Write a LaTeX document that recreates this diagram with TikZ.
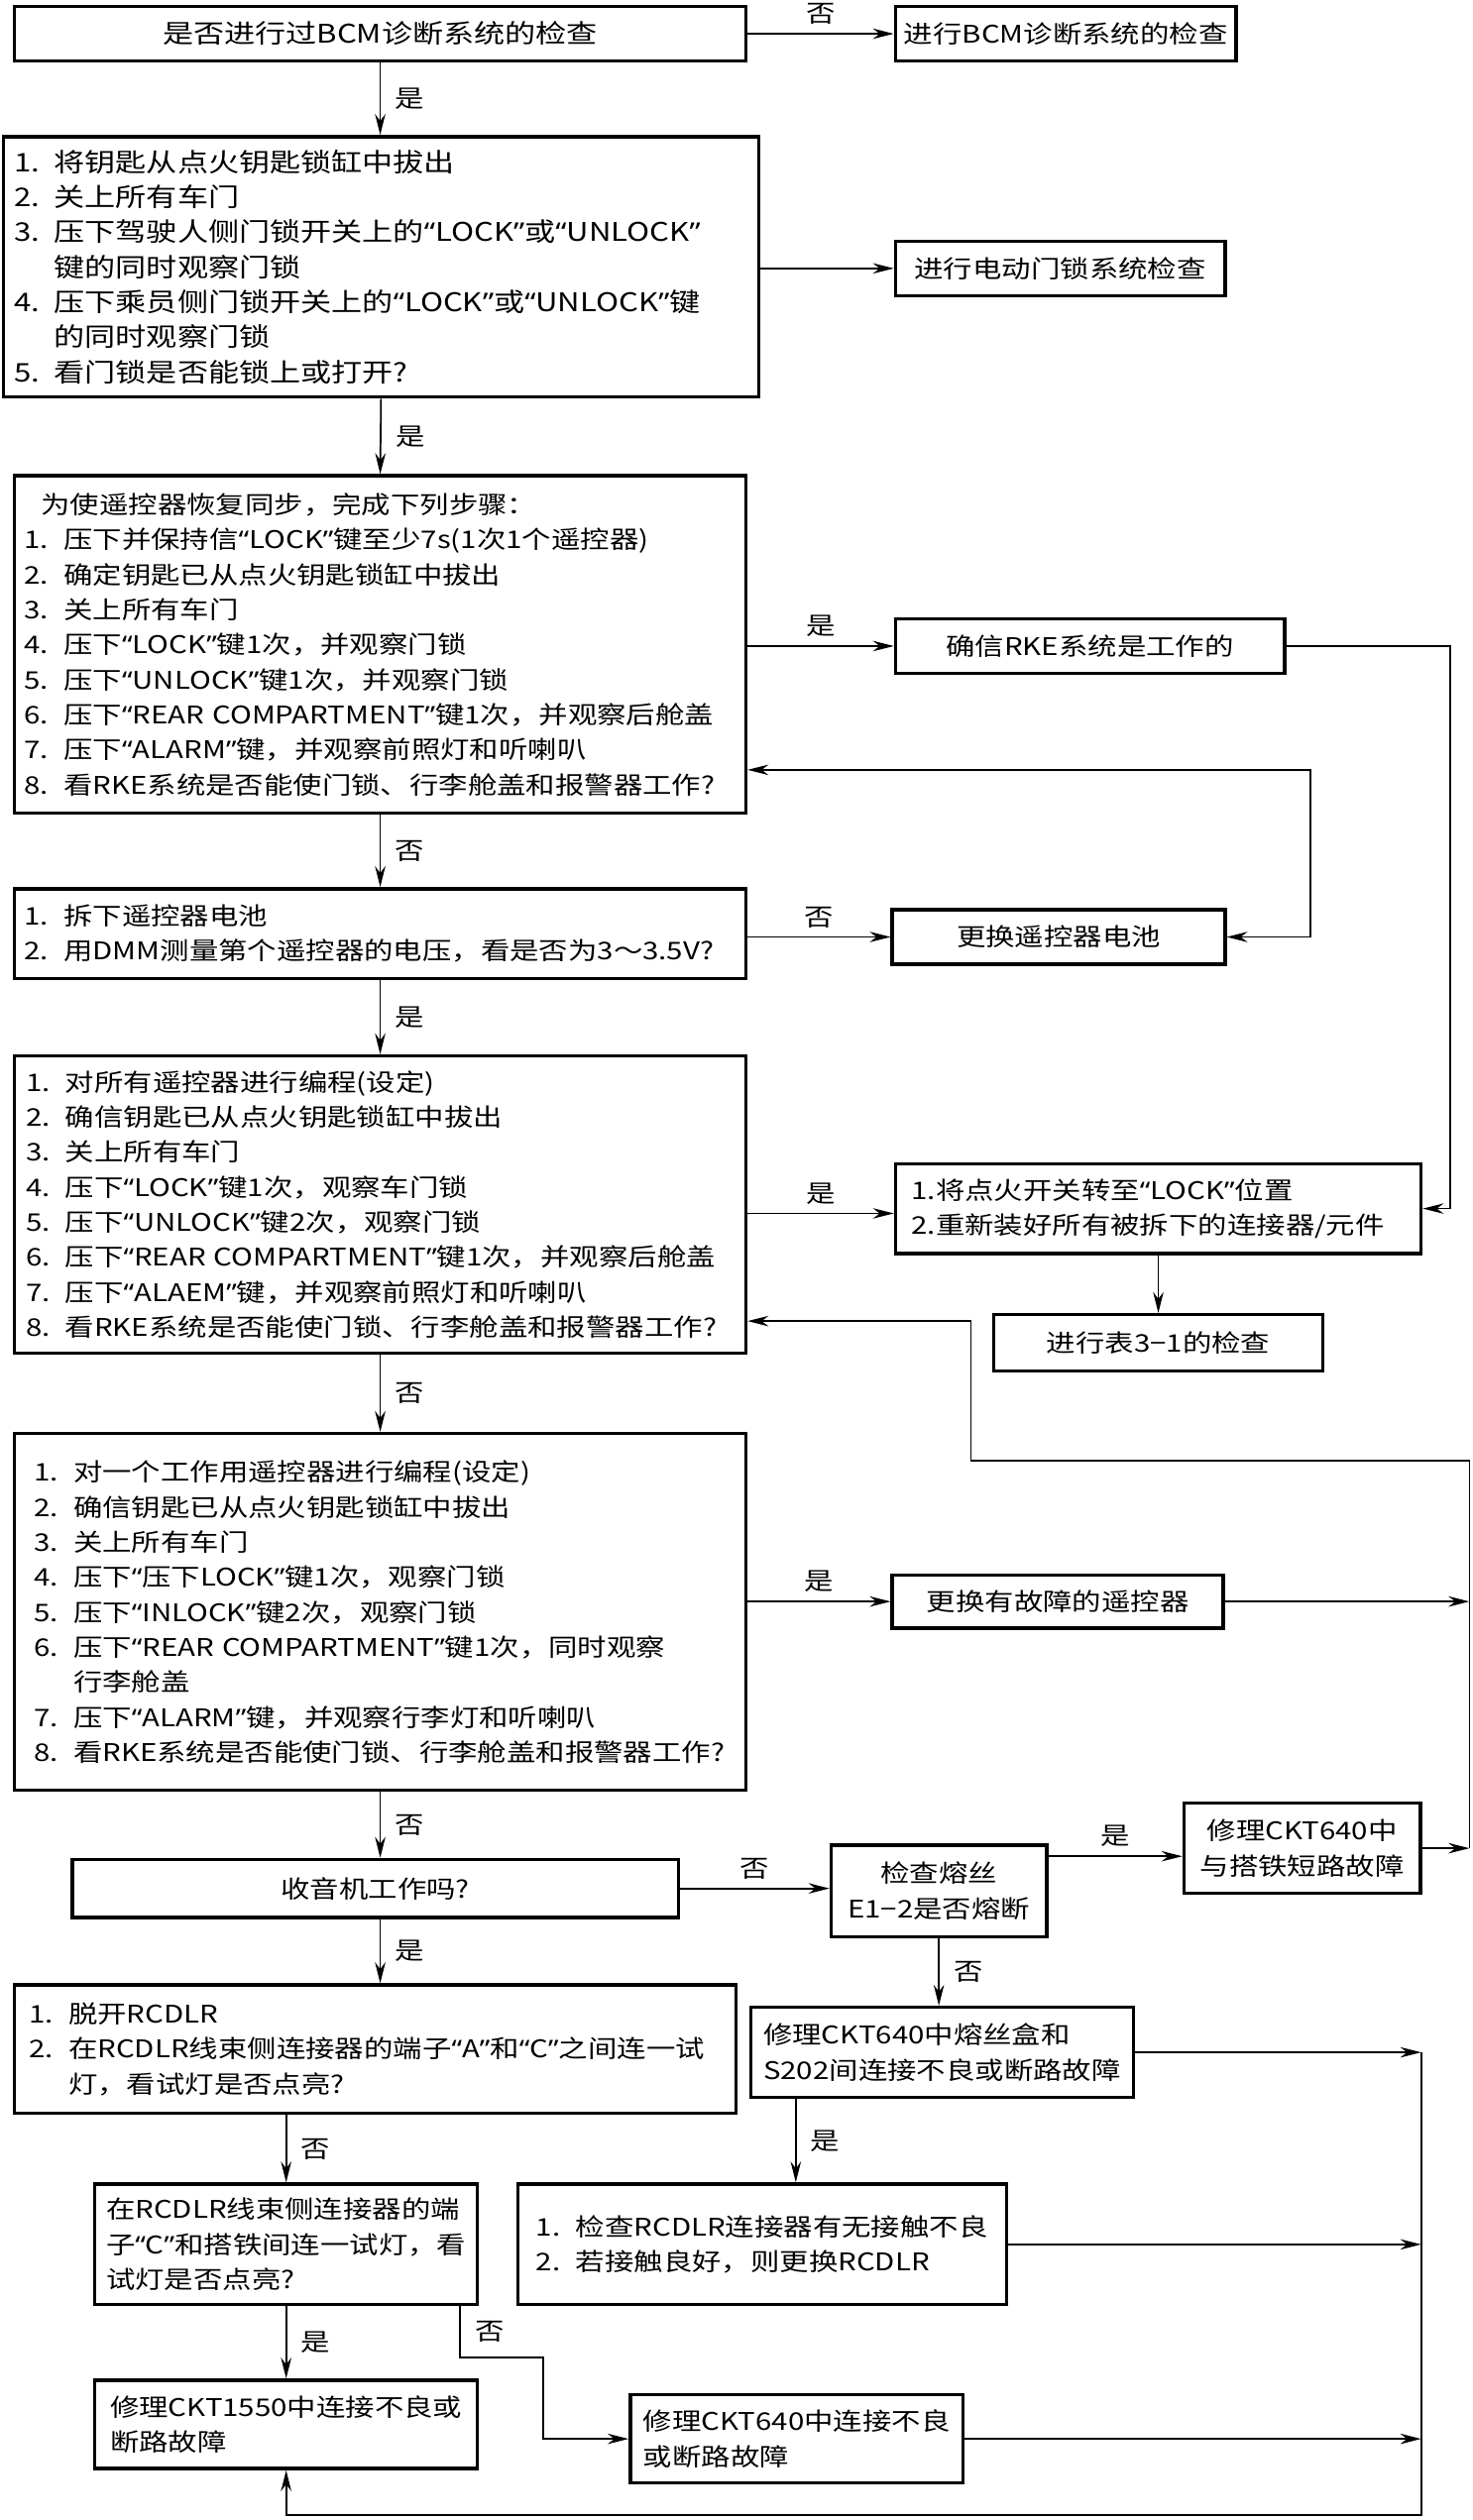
\documentclass[tikz,border=0pt]{standalone}
\usepackage{fontspec}
\setmainfont{Noto Sans CJK SC}[FakeStretch=1.2]
\newfontfamily\qtfont{Noto Sans}[FakeStretch=1.2]
\usetikzlibrary{arrows.meta}
\newcommand{\itm}[1]{\makebox[14pt][l]{#1}}
\newcommand{\ind}{\hspace*{14pt}}
\catcode`“=\active
\catcode`”=\active
\def“{{\qtfont\char"201C}}
\def”{{\qtfont\char"201D}}
\begin{document}
\begin{tikzpicture}[x=0.02cm, y=-0.02cm, font=\fontsize{8.6pt}{12.4pt}\selectfont,
    box/.style={draw, line width=1.2pt, inner sep=0pt},
    listbox/.style={box, align=left},
    arr/.style={line width=0.6pt, -{Stealth[length=2.6mm, width=1.3mm]}},
    dbl/.style={arr, {Stealth[length=2.6mm, width=1.3mm]}-{Stealth[length=2.6mm, width=1.3mm]}},
    albl/.style={inner sep=3pt, above},
    rlbl/.style={inner sep=3pt, right, xshift=2pt}]
    \useasboundingbox (0,0) rectangle (916,1568);
    \node[box, minimum width=9.10cm, minimum height=0.68cm, font=\fontsize{9.1pt}{12.4pt}\selectfont] (bcmq) at (236.5,21) {是否进行过BCM诊断系统的检查};
    \node[box, minimum width=4.24cm, minimum height=0.68cm] (bcmdo) at (663,21) {进行BCM诊断系统的检查};
    \node[listbox, inner xsep=0.14cm, text width=9.12cm, minimum height=3.24cm, font=\fontsize{9.1pt}{12.4pt}\selectfont] (lockq) at (237,166) {\itm{1.}将钥匙从点火钥匙锁缸中拔出\\ \itm{2.}关上所有车门\\ \itm{3.}压下驾驶人侧门锁开关上的“LOCK”或“UNLOCK”\\ \ind 键的同时观察门锁\\ \itm{4.}压下乘员侧门锁开关上的“LOCK”或“UNLOCK”键\\ \ind 的同时观察门锁\\ \itm{5.}看门锁是否能锁上或打开?};
    \node[box, minimum width=4.10cm, minimum height=0.68cm] (doorchk) at (659.5,167) {进行电动门锁系统检查};
    \node[listbox, inner xsep=0.12cm, text width=8.86cm, minimum height=4.20cm] (syncq) at (236.5,401) {\hspace*{6pt}为使遥控器恢复同步，完成下列步骤：\\ \itm{1.}压下并保持信“LOCK”键至少7s(1次1个遥控器)\\ \itm{2.}确定钥匙已从点火钥匙锁缸中拔出\\ \itm{3.}关上所有车门\\ \itm{4.}压下“LOCK”键1次，并观察门锁\\ \itm{5.}压下“UNLOCK”键1次，并观察门锁\\ \itm{6.}压下“REAR COMPARTMENT”键1次，并观察后舱盖\\ \itm{7.}压下“ALARM”键，并观察前照灯和听喇叭\\ \itm{8.}看RKE系统是否能使门锁、行李舱盖和报警器工作?};
    \node[box, minimum width=4.84cm, minimum height=0.68cm] (rkeok) at (678,402) {确信RKE系统是工作的};
    \node[listbox, inner xsep=0.12cm, text width=8.86cm, minimum height=1.12cm] (batq) at (236.5,581) {\itm{1.}拆下遥控器电池\\ \itm{2.}用DMM测量第个遥控器的电压，看是否为3～3.5V?};
    \node[box, minimum width=4.14cm, minimum height=0.68cm] (batnew) at (658.5,583) {更换遥控器电池};
    \node[listbox, inner xsep=0.14cm, text width=8.82cm, minimum height=3.70cm] (progq) at (236.5,749.5) {\itm{1.}对所有遥控器进行编程(设定)\\ \itm{2.}确信钥匙已从点火钥匙锁缸中拔出\\ \itm{3.}关上所有车门\\ \itm{4.}压下“LOCK”键1次，观察车门锁\\ \itm{5.}压下“UNLOCK”键2次，观察门锁\\ \itm{6.}压下“REAR COMPARTMENT”键1次，并观察后舱盖\\ \itm{7.}压下“ALAEM”键，并观察前照灯和听喇叭\\ \itm{8.}看RKE系统是否能使门锁、行李舱盖和报警器工作?};
    \node[listbox, inner xsep=0.2cm, text width=6.14cm, minimum height=1.12cm] (keyoff) at (720.5,752) {1.将点火开关转至“LOCK”位置\\ 2.重新装好所有被拆下的连接器/元件};
    \node[box, minimum width=4.10cm, minimum height=0.70cm] (tab31) at (720.5,835.5) {进行表3−1的检查};
    \node[listbox, inner xsep=0.24cm, text width=8.62cm, minimum height=4.44cm] (progone) at (236.5,1003) {\itm{1.}对一个工作用遥控器进行编程(设定)\\ \itm{2.}确信钥匙已从点火钥匙锁缸中拔出\\ \itm{3.}关上所有车门\\ \itm{4.}压下“压下LOCK”键1次，观察门锁\\ \itm{5.}压下“INLOCK”键2次，观察门锁\\ \itm{6.}压下“REAR COMPARTMENT”键1次，同时观察\\ \ind 行李舱盖\\ \itm{7.}压下“ALARM”键，并观察行李灯和听喇叭\\ \itm{8.}看RKE系统是否能使门锁、行李舱盖和报警器工作?};
    \node[box, minimum width=4.12cm, minimum height=0.66cm] (remnew) at (658,996.5) {更换有故障的遥控器};
    \node[box, minimum width=7.54cm, minimum height=0.72cm] (radioq) at (233.5,1175) {收音机工作吗?};
    \node[box, align=center, minimum width=2.68cm, minimum height=1.14cm] (fuseq) at (584,1176.5) {检查熔丝\\ E1−2是否熔断};
    \node[box, align=center, minimum width=2.94cm, minimum height=1.12cm] (gndfix) at (810,1150) {修理CKT640中\\ 与搭铁短路故障};
    \node[listbox, inner xsep=0.18cm, text width=8.62cm, minimum height=1.60cm] (rcdlrq) at (233.5,1275) {\itm{1.}脱开RCDLR\\ \itm{2.}在RCDLR线束侧连接器的端子“A”和“C”之间连一试\\ \ind 灯，看试灯是否点亮?};
    \node[listbox, minimum width=4.76cm, minimum height=1.12cm] (fusefix) at (586,1277) {修理CKT640中熔丝盒和\\ S202间连接不良或断路故障};
    \node[listbox, minimum width=4.76cm, minimum height=1.50cm] (gndq) at (178,1396.5) {在RCDLR线束侧连接器的端\\ 子“C”和搭铁间连一试灯，看\\ 试灯是否点亮?};
    \node[listbox, minimum width=6.08cm, minimum height=1.50cm] (connchk) at (474,1396.5) {\itm{1.}检查RCDLR连接器有无接触不良\\ \itm{2.}若接触良好，则更换RCDLR};
    \node[listbox, minimum width=4.76cm, minimum height=1.10cm] (fix1550) at (178,1508.5) {修理CKT1550中连接不良或\\ 断路故障};
    \node[listbox, minimum width=4.14cm, minimum height=1.10cm] (fix640) at (495.5,1517.5) {修理CKT640中连接不良\\ 或断路故障};
    \coordinate (okbus) at (902,402);
    \coordinate (batbus) at (815,479);
    \coordinate (midbus) at (914,909);
    \coordinate (retbus) at (604,822);
    \coordinate (lowbus) at (884,1565);
    \coordinate (nobend) at (338,1467);
    \draw[arr] (bcmq) -- node[albl] (no1) {否} (bcmdo);
    \draw[arr] (bcmq.south) -- node[rlbl] (yes1) {是} (bcmq.south |- lockq.north);
    \draw[arr] (lockq.east |- doorchk) -- (doorchk);
    \draw[arr] (lockq.south) -- node[rlbl] (yes2) {是} (syncq.north);
    \draw[arr] (syncq.east |- rkeok) -- node[albl] (yes3) {是} (rkeok);
    \draw[arr] (rkeok) -| (okbus) |- (keyoff);
    \draw[dbl] (syncq.east |- batbus) -- (batbus) |- (batnew);
    \draw[arr] (syncq) -- node[rlbl] (no2) {否} (batq);
    \draw[arr] (batq.east |- batnew) -- node[albl] (no3) {否} (batnew);
    \draw[arr] (batq) -- node[rlbl] (yes4) {是} (progq);
    \draw[arr] (progq.east |- 0,755) -- node[albl] (yes5) {是} (keyoff.west |- 0,755);
    \draw[arr] (keyoff) -- (tab31);
    \draw[arr] (progq) -- node[rlbl] (no4) {否} (progone);
    \draw[arr] (progone.east |- remnew) -- node[albl] (yes6) {是} (remnew);
    \draw[arr] (remnew.east) -- (remnew.east -| midbus);
    \draw[arr] (gndfix.east) -- (gndfix.east -| midbus);
    \draw[arr] (gndfix.east -| midbus) -- (midbus) -| (retbus) -- (progq.east |- retbus);
    \draw[arr] (progone.south) -- node[rlbl] (no5) {否} (progone.south |- radioq.north);
    \draw[arr] (radioq.east) -- node[albl] (no6) {否} (radioq.east -| fuseq.west);
    \draw[arr] (fuseq.east |- 0,1155) -- node[albl] (yes7) {是} (gndfix.west |- 0,1155);
    \draw[arr] (fuseq.south) -- node[rlbl] (no7) {否} (fuseq.south |- fusefix.north);
    \draw[arr] (progone.south |- radioq.south) -- node[rlbl] (yes8) {是} (progone.south |- rcdlrq.north);
    \draw[arr] (gndq.north |- rcdlrq.south) -- node[rlbl] (no8) {否} (gndq.north);
    \draw[arr] (fusefix.south -| 495,0) -- node[rlbl] (yes9) {是} (connchk.north -| 495,0);
    \draw[arr] (fusefix.east) -- (fusefix.east -| lowbus);
    \draw[arr] (connchk.east) -- (connchk.east -| lowbus);
    \draw[arr] (fix640.east) -- (fix640.east -| lowbus);
    \draw[arr] (fusefix.east -| lowbus) -- (lowbus) -| (fix1550.south);
    \draw[arr] (gndq) -- node[rlbl] (yes10) {是} (fix1550);
    \draw[arr] ([xshift=-0.24cm]gndq.south east) |- node[rlbl, pos=0.25] (no9) {否} (nobend) |- (fix640);
\end{tikzpicture}
\end{document}
